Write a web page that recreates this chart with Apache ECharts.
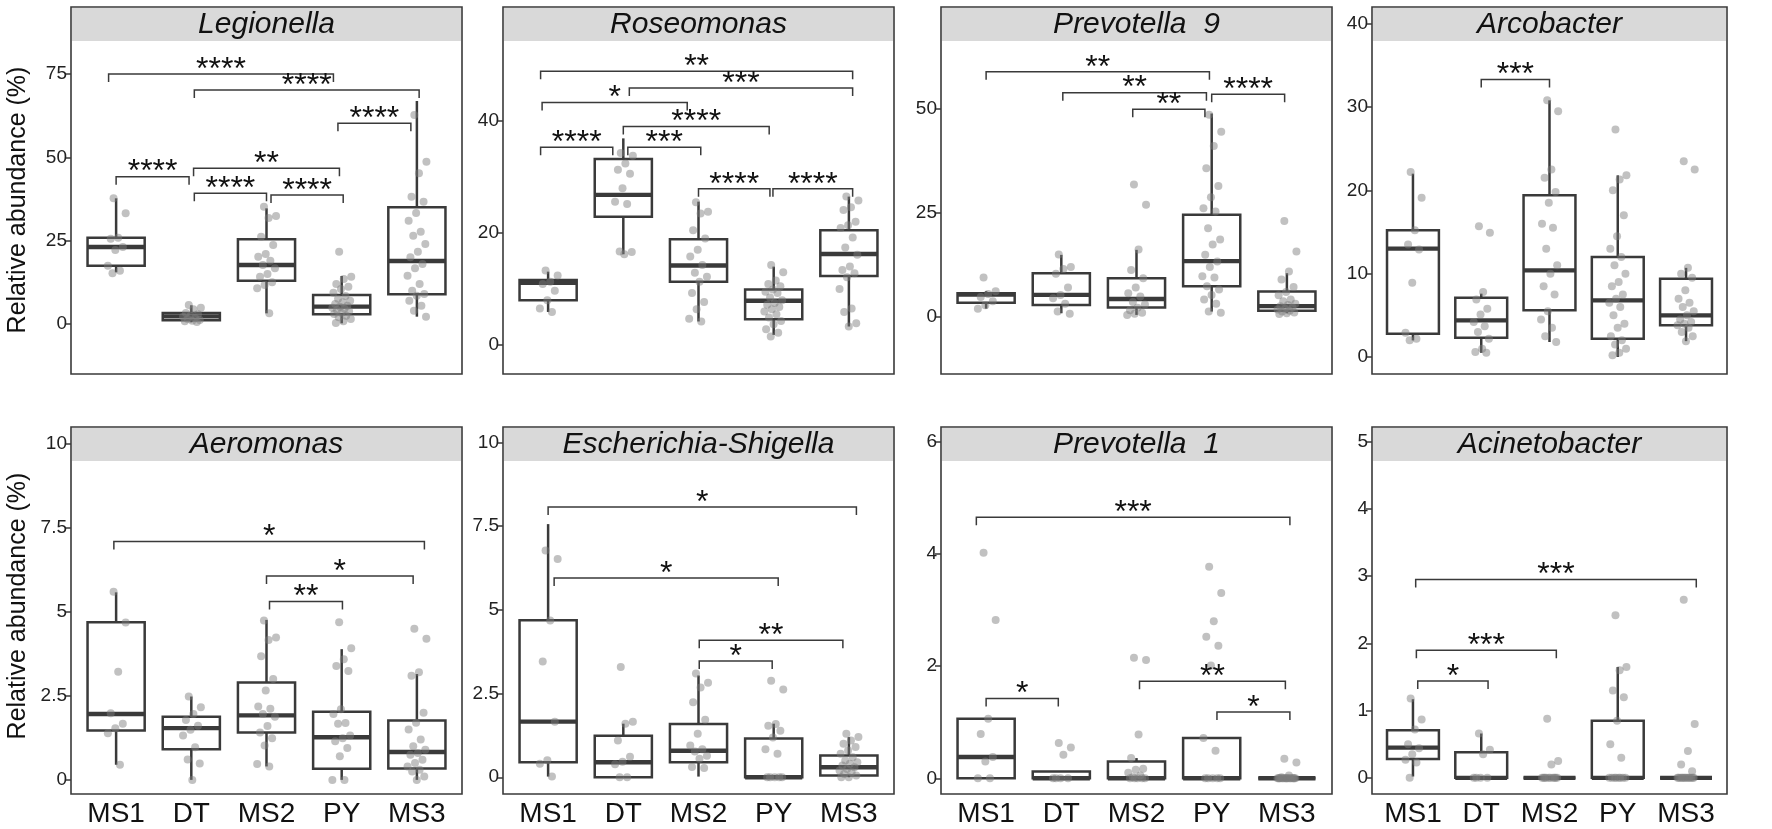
<!DOCTYPE html>
<html><head><meta charset="utf-8">
<script src="https://cdn.jsdelivr.net/npm/echarts@6/dist/echarts.min.js"></script>
<style>html,body{margin:0;padding:0;background:#fff}#c{width:1772px;height:829px}</style>
</head><body><div id="c"></div>
<script>
const groups = ['MS1','DT','MS2','PY','MS3'];

// ---------- Legionella ----------
const legionellaTicks = [0,25,50,75];
const legionellaRange = [-15, 95.1];
const legionellaBox = [[15.5,17.5,23.1,25.9,37.7],[0.5,1.1,2.3,3.3,5.6],[3.2,13.0,17.7,25.4,34.7],[0.2,2.9,5.2,8.7,14.4],[2.2,8.9,18.9,35.0,66.9]];
const legionellaPts = [
  [37.7,33.2,25.9,25.6,23.1,22.2,17.5,16.0,15.2],
  [5.7,4.9,4.4,3.3,2.9,2.5,2.2,1.8,1.5,1.2,1.0,0.8,0.6],
  [35.2,32.4,31.8,26.2,23.7,21.0,20.2,19.0,17.7,16.7,15.0,14.2,12.5,11.7,10.7,3.2],
  [21.7,14.2,13.5,12.0,11.2,10.5,9.4,8.4,7.6,7.0,6.5,6.0,5.5,5.2,4.9,4.6,4.2,3.8,3.3,3.0,2.5,2.0,1.5,0.8,0.3],
  [62.7,48.7,45.2,38.2,36.7,33.3,31.0,27.7,26.5,24.0,21.7,20.0,18.0,16.7,14.5,12.0,10.0,9.0,8.5,7.0,5.5,4.0,2.2]
];
const legionellaSig = [[-0.1,2.89,75.0,'****'],[1.04,4.03,70.2,'****'],[2.95,3.92,60.2,'****'],[0,0.97,44.2,'****'],[1.03,2.97,46.7,'**'],[1.04,2.0,39.2,'****'],[2.06,3.02,38.7,'****']];

// ---------- Roseomonas ----------
const roseomonasTicks = [0,20,40];
const roseomonasRange = [-5.18, 60.36];
const roseomonasBox = [[5.9,8.0,11.1,11.6,13.1],[16.2,22.9,26.8,33.2,36.9],[4.2,11.3,14.2,18.9,25.6],[1.8,4.6,7.9,9.9,14.0],[3.3,12.3,16.25,20.5,26.5]];
const roseomonasPts = [
  [13.3,12.4,11.3,10.9,9.7,8.0,6.5,5.9],
  [34.3,33.8,32.4,31.3,30.6,28.0,25.6,25.2,16.7,16.6,16.2],
  [25.5,23.8,23.5,20.5,19.0,17.0,15.8,14.3,12.9,12.2,11.3,9.3,7.7,6.4,4.7,4.2],
  [14.3,13.0,11.5,10.9,10.5,9.9,9.5,9.3,8.5,8.0,7.5,7.2,6.8,6.4,6.0,5.5,4.9,4.3,3.7,2.8,2.2,1.5],
  [26.5,25.8,24.6,24.1,22.0,21.4,20.9,19.2,17.4,16.1,14.0,13.4,12.8,12.1,10.0,6.5,5.9,3.9,3.3]
];
const roseomonasSig = [[-0.1,4.05,48.9,'**'],[1.08,4.05,45.9,'***'],[-0.08,1.85,43.3,'*'],[1.0,2.94,39.0,'****'],[-0.1,0.86,35.3,'****'],[1.06,2.03,35.3,'***'],[2.0,2.95,27.9,'****'],[2.99,4.05,27.9,'****']];

// ---------- Prevotella 9 ----------
const prevotella9Ticks = [0,25,50];
const prevotella9Range = [-13.67, 74.34];
const prevotella9Box = [[2.0,3.4,5.4,5.7,6.2],[0.9,2.9,5.3,10.5,14.9],[0.5,2.3,4.3,9.3,16.1],[1.3,7.4,13.4,24.5,48.8],[0.9,1.5,2.6,6.1,10.5]];
const prevotella9Pts = [
  [9.5,6.2,5.5,4.8,3.8,2.8,2.0],
  [15.0,12.0,11.5,10.4,7.1,5.3,4.5,3.2,1.3,0.8],
  [31.8,26.9,16.2,11.3,9.3,7.1,5.7,4.9,3.6,3.0,2.2,1.6,1.0,0.8,0.5],
  [48.5,44.4,41.0,35.7,31.4,28.7,26.1,25.3,21.3,18.6,17.4,14.9,13.3,12.0,9.8,9.5,7.4,6.6,5.3,4.2,3.2,1.3,1.0],
  [23.0,15.7,10.9,9.0,7.2,6.0,5.2,4.2,3.8,3.2,2.9,2.6,2.3,2.0,1.8,1.5,1.3,1.1,0.9,0.7]
];
const prevotella9Sig = [[0,2.97,58.8,'**'],[1.02,2.93,53.8,'**'],[1.95,2.91,49.8,'**'],[3.0,3.97,53.4,'****']];

// ---------- Arcobacter ----------
const arcobacterTicks = [0,10,20,30,40];
const arcobacterRange = [-2.04, 42.0];
const arcobacterBox = [[2.0,2.8,13.0,15.2,22.0],[0.5,2.3,4.4,7.1,7.6],[1.8,5.6,10.4,19.4,30.8],[0.0,2.2,6.8,12.0,21.8],[1.9,3.8,5.0,9.4,10.7]];
const arcobacterPts = [
  [22.2,19.1,15.2,13.5,12.9,8.9,2.9,2.2,2.0],
  [15.7,14.9,7.8,6.9,5.8,5.1,4.2,3.7,3.0,2.2,1.0,0.6,0.5],
  [30.8,29.5,22.5,21.5,19.8,18.5,16.0,15.5,13.0,11.0,10.0,8.5,7.5,5.5,4.5,3.5,2.5,1.8],
  [27.3,21.8,21.3,20.0,17.0,14.5,13.0,12.0,11.0,10.0,9.0,8.5,7.5,7.0,6.5,6.0,5.0,4.0,3.5,2.5,2.0,1.5,1.0,0.5,0.2],
  [23.5,22.5,10.7,10.0,9.5,8.0,7.0,6.5,6.0,5.5,5.0,4.5,4.2,4.0,3.8,3.5,3.0,2.5,1.9]
];
const arcobacterSig = [[1.0,2.0,33.3,'***']];

// ---------- Aeromonas ----------
const aeromonasTicks = [0,2.5,5,7.5,10];
const aeromonasRange = [-0.42, 10.5];
const aeromonasBox = [[0.45,1.47,1.96,4.69,5.58],[0.0,0.91,1.54,1.88,2.48],[0.4,1.41,1.92,2.9,4.76],[0.0,0.33,1.27,2.03,3.89],[0.0,0.34,0.83,1.77,3.15]];
const aeromonasPts = [
  [5.6,4.68,3.22,1.98,1.67,1.54,1.39,0.45],
  [2.48,2.16,1.96,1.78,1.61,1.49,1.32,0.97,0.61,0.49,0.0],
  [4.74,4.24,4.16,3.68,3.0,2.66,2.18,2.12,1.96,1.88,1.6,1.41,1.24,1.02,0.47,0.4],
  [4.69,3.92,3.59,3.39,3.24,2.1,1.96,1.69,1.67,1.32,1.24,1.15,0.95,0.7,0.0,0.0],
  [4.5,4.2,3.2,3.1,2.0,1.7,1.5,1.2,1.0,0.9,0.8,0.75,0.6,0.5,0.4,0.3,0.25,0.1,0.0]
];
const aeromonasSig = [[-0.03,4.1,7.09,'*'],[2.0,3.95,6.07,'*'],[2.04,3.01,5.31,'**']];

// ---------- Escherichia-Shigella ----------
const escherichiaTicks = [0,2.5,5,7.5,10];
const escherichiaRange = [-0.5, 10.46];
const escherichiaBox = [[0.02,0.45,1.66,4.69,7.56],[0.0,0.0,0.45,1.24,1.6],[0.02,0.45,0.79,1.59,3.04],[0.0,0.0,0.0,1.16,1.6],[0.0,0.05,0.3,0.65,1.2]];
const escherichiaPts = [
  [6.77,6.52,4.68,3.46,1.66,0.51,0.4,0.02],
  [3.29,1.66,1.6,1.1,0.61,0.46,0.39,0.0,0.0],
  [3.1,2.82,2.68,2.24,1.72,1.3,0.95,0.84,0.77,0.64,0.55,0.31,0.28],
  [2.88,2.62,1.59,1.54,1.39,1.19,0.84,0.7,0.0,0.0,0.0,0.0,0.0],
  [1.3,1.2,1.1,1.0,0.9,0.8,0.7,0.6,0.5,0.45,0.4,0.35,0.3,0.25,0.2,0.15,0.1,0.05,0.0,0.0]
];
const escherichiaSig = [[0,4.1,8.07,'*'],[0.08,3.06,5.95,'*'],[2.01,3.92,4.09,'**'],[2.01,2.98,3.47,'*']];

// ---------- Prevotella 1 ----------
const prevotella1Ticks = [0,2,4,6];
const prevotella1Range = [-0.28, 6.26];
const prevotella1Box = [[0,0,0.38,1.06,1.06],[0,0,0,0.12,0.12],[0,0,0,0.3,0.36],[0,0,0,0.72,0.72],[0,0,0,0,0]];
const prevotella1Pts = [
  [4.02,2.82,1.06,0.79,0.38,0.3,0,0],
  [0.63,0.55,0.42,0,0,0,0],
  [2.15,2.11,0.78,0.36,0.17,0.15,0.1,0.05,0.02,0,0,0,0,0],
  [3.77,3.3,2.8,2.52,2.36,2.01,0.72,0.49,0,0,0,0,0],
  [0.35,0.28,0.05,0.02,0,0,0,0,0,0,0,0,0,0,0,0,0,0,0,0]
];
const prevotella1Sig = [[-0.13,4.04,4.65,'***'],[0,0.96,1.42,'*'],[2.04,3.98,1.73,'**'],[3.07,4.04,1.18,'*']];

// ---------- Acinetobacter ----------
const acinetobacterTicks = [0,1,2,3,4,5];
const acinetobacterRange = [-0.24, 5.22];
const acinetobacterBox = [[0.02,0.28,0.45,0.71,1.17],[0,0,0,0.38,0.66],[0,0,0,0,0],[0,0,0,0.85,1.65],[0,0,0,0,0]];
const acinetobacterPts = [
  [1.18,0.87,0.72,0.5,0.44,0.35,0.27,0.23,0],
  [0.66,0.42,0.35,0,0,0,0],
  [0.88,0.25,0.2,0,0,0,0,0,0,0,0,0,0],
  [2.42,1.65,1.6,1.3,1.2,0.85,0.5,0.3,0,0,0,0,0,0,0,0],
  [2.65,0.8,0.4,0.2,0.1,0,0,0,0,0,0,0,0,0,0,0,0,0]
];
const acinetobacterSig = [[0.04,4.15,2.95,'***'],[0.05,2.1,1.9,'***'],[0.07,1.1,1.44,'*']];

const panels = [
  {title:'Legionella', ticks:legionellaTicks, range:legionellaRange, box:legionellaBox, pts:legionellaPts, sig:legionellaSig},
  {title:'Roseomonas', ticks:roseomonasTicks, range:roseomonasRange, box:roseomonasBox, pts:roseomonasPts, sig:roseomonasSig},
  {title:'Prevotella  9', ticks:prevotella9Ticks, range:prevotella9Range, box:prevotella9Box, pts:prevotella9Pts, sig:prevotella9Sig},
  {title:'Arcobacter', ticks:arcobacterTicks, range:arcobacterRange, box:arcobacterBox, pts:arcobacterPts, sig:arcobacterSig},
  {title:'Aeromonas', ticks:aeromonasTicks, range:aeromonasRange, box:aeromonasBox, pts:aeromonasPts, sig:aeromonasSig},
  {title:'Escherichia-Shigella', ticks:escherichiaTicks, range:escherichiaRange, box:escherichiaBox, pts:escherichiaPts, sig:escherichiaSig},
  {title:'Prevotella  1', ticks:prevotella1Ticks, range:prevotella1Range, box:prevotella1Box, pts:prevotella1Pts, sig:prevotella1Sig},
  {title:'Acinetobacter', ticks:acinetobacterTicks, range:acinetobacterRange, box:acinetobacterBox, pts:acinetobacterPts, sig:acinetobacterSig}
];

// ---------- layout ----------
const colLeft = [71, 503, 941, 1372];
const colWidth = [391, 391, 391, 355];
const rowTop = [7, 427];
const rowHeight = [367, 367];
const FONT = '"Liberation Sans", Arial, Helvetica, sans-serif';
const INK = '#3a3a3a';

function jit(j){ return (((j * 0.6180339887 + 0.37) % 1) - 0.5) * 0.26; }

function renderBox(params, api){
  const x = api.value(0);
  const lo = api.coord([x, api.value(1)]);
  const q1 = api.coord([x, api.value(2)]);
  const md = api.coord([x, api.value(3)]);
  const q3 = api.coord([x, api.value(4)]);
  const hi = api.coord([x, api.value(5)]);
  const w = api.size([1, 0])[0] * 0.76;
  const cx = lo[0];
  const st = {stroke: INK, lineWidth: 2.5, fill: null};
  return {type:'group', children:[
    {type:'line', shape:{x1:cx, y1:hi[1], x2:cx, y2:q3[1]}, style:st},
    {type:'line', shape:{x1:cx, y1:q1[1], x2:cx, y2:lo[1]}, style:st},
    {type:'rect', shape:{x:cx - w/2, y:q3[1], width:w, height:q1[1] - q3[1]}, style:{stroke:INK, lineWidth:2.5, fill:'#fff'}},
    {type:'line', shape:{x1:cx - w/2, y1:md[1], x2:cx + w/2, y2:md[1]}, style:{stroke:INK, lineWidth:4.4}}
  ]};
}

function makeSigRender(sig){
  return function(params, api){
    const y = api.value(2);
    const p1 = api.coord([api.value(0), y]);
    const p2 = api.coord([api.value(1), y]);
    const tip = 8;
    return {type:'group', children:[
      {type:'polyline', shape:{points:[[p1[0], p1[1] + tip],[p1[0], p1[1]],[p2[0], p2[1]],[p2[0], p2[1] + tip]]}, style:{stroke:INK, lineWidth:1.5, fill:null}},
      {type:'text', x:(p1[0] + p2[0]) / 2, y:p1[1] - 4, style:{text:sig[params.dataIndex][3], font:'32px ' + FONT, fill:'#111', align:'center', verticalAlign:'middle', textAlign:'center', textVerticalAlign:'middle'}}
    ]};
  };
}

const grid = [], xAxis = [], yAxis = [], series = [], graphic = [];
panels.forEach((p, k) => {
  const row = Math.floor(k / 4), col = k % 4;
  const left = colLeft[col], top = rowTop[row], width = colWidth[col], height = rowHeight[row];
  grid.push({left, top, width, height, show:true, borderColor:INK, borderWidth:1.6, backgroundColor:'#fff', containLabel:false});
  xAxis.push({
    gridIndex:k, type:'value', min:-0.6, max:4.6,
    axisLine:{show:false, onZero:false}, axisTick:{show:false}, splitLine:{show:false},
    axisLabel: row === 1 ? {show:true, customValues:[0,1,2,3,4], formatter:v => groups[Math.round(v)] || '', fontSize:28, color:'#111', margin:6, fontFamily:FONT} : {show:false}
  });
  yAxis.push({
    gridIndex:k, type:'value', min:p.range[0], max:p.range[1],
    axisLine:{show:false, onZero:false}, splitLine:{show:false},
    axisTick:{show:true, customValues:p.ticks, length:6, lineStyle:{color:INK, width:1.5}},
    axisLabel:{show:true, customValues:p.ticks, fontSize:19, color:'#222', margin:4, fontFamily:FONT}
  });
  series.push({
    type:'custom', coordinateSystem:'cartesian2d', xAxisIndex:k, yAxisIndex:k, z:2,
    renderItem: renderBox, encode:{x:0, y:[1,2,3,4,5]},
    data: p.box.map((b, i) => [i].concat(b))
  });
  const pdata = [];
  p.pts.forEach((arr, i) => arr.forEach((v, j) => pdata.push([i + jit(j), v])));
  series.push({
    type:'scatter', xAxisIndex:k, yAxisIndex:k, z:3, symbol:'circle', symbolSize:8,
    itemStyle:{color:'rgba(125,125,125,0.6)'}, data:pdata, silent:true
  });
  series.push({
    type:'custom', coordinateSystem:'cartesian2d', xAxisIndex:k, yAxisIndex:k, z:4,
    renderItem: makeSigRender(p.sig), encode:{x:[0,1], y:2},
    data: p.sig.map(s => [s[0], s[1], s[2]])
  });
  graphic.push({type:'rect', z:50, shape:{x:left + 1, y:top + 1, width:width - 2, height:33}, style:{fill:'#d9d9d9'}});
  graphic.push({type:'text', z:51, x:left + width / 2, y:top + 18, style:{text:p.title, font:'italic 30px ' + FONT, fill:'#111', align:'center', verticalAlign:'middle', textAlign:'center', textVerticalAlign:'middle'}});
});
[200, 606].forEach(cy => {
  graphic.push({type:'text', z:51, x:18, y:cy, rotation:Math.PI / 2, style:{text:'Relative abundance (%)', font:'25px ' + FONT, fill:'#111', align:'center', verticalAlign:'middle', textAlign:'center', textVerticalAlign:'middle'}});
});

const chart = echarts.init(document.getElementById('c'), null, {renderer:'canvas'});
chart.setOption({
  animation:false,
  backgroundColor:'#fff',
  textStyle:{fontFamily:FONT},
  grid, xAxis, yAxis, series, graphic
});
</script></body></html>
